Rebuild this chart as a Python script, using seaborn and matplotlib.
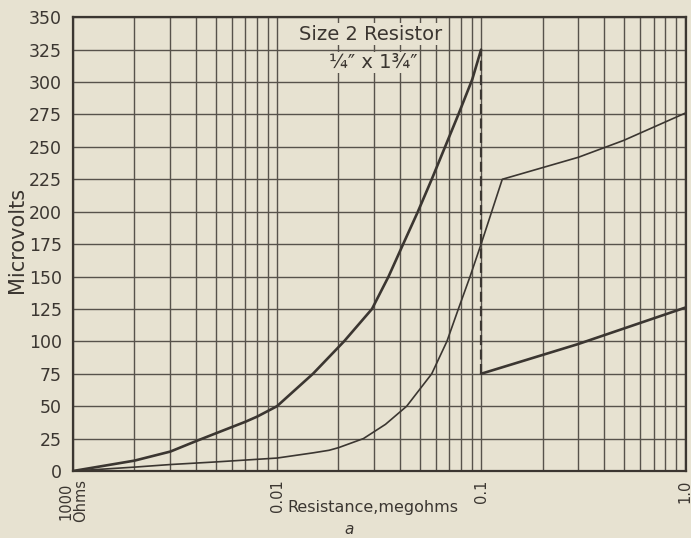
import matplotlib
matplotlib.use("Agg")
import matplotlib.pyplot as plt
import matplotlib.ticker as mticker
import seaborn as sns
import pandas as pd

# ---- data ----
a1_x = [0.001, 0.002, 0.003, 0.004, 0.005, 0.007, 0.008, 0.01, 0.015, 0.0213,
        0.0292, 0.0352, 0.0415, 0.049, 0.0573, 0.0666, 0.0774, 0.0905, 0.1]
a1_y = [0, 8, 15, 23, 29, 38, 42, 50, 75, 100, 125, 150, 175, 200, 225, 250,
        275, 302, 325]
a2_x = [0.1, 0.3, 1.0]
a2_y = [75, 98, 126]
b_x = [0.001, 0.002, 0.003, 0.005, 0.01, 0.015, 0.018, 0.02, 0.0265, 0.034,
       0.0432, 0.0573, 0.068, 0.0774, 0.0883, 0.1, 0.127, 0.3, 0.5, 1.0]
b_y = [0, 3, 5, 7, 10, 14, 16, 18, 25, 36, 50, 75, 100, 125, 150, 175, 225,
       242, 255, 276]
x_ticks = [0.001, 0.01, 0.1, 1.0]
x_tick_labels = ["1000\nOhms", "0.01", "0.1", "1.0"]
y_ticks = list(range(0, 351, 25))

BG = "#e7e2d1"
INK = "#3b3631"
GRID = "#57524b"

sns.set_theme(style="white")
plt.rcParams["font.family"] = ["DejaVu Sans"]

fig = plt.figure(figsize=(6.91, 5.38), dpi=100, facecolor=BG)
ax = fig.add_axes([0.1056, 0.1245, 0.8872, 0.8435])
ax.set_facecolor(BG)

df_a1 = pd.DataFrame({"x": a1_x, "y": a1_y})
df_a2 = pd.DataFrame({"x": a2_x, "y": a2_y})
df_b = pd.DataFrame({"x": b_x, "y": b_y})

sns.lineplot(data=df_a1, x="x", y="y", ax=ax, color=INK, lw=1.9, sort=False,
             estimator=None, zorder=4)
sns.lineplot(data=df_a2, x="x", y="y", ax=ax, color=INK, lw=1.9, sort=False,
             estimator=None, zorder=4)
sns.lineplot(data=df_b, x="x", y="y", ax=ax, color=INK, lw=1.2, sort=False,
             estimator=None, zorder=4)
ax.vlines(a1_x[-1], a2_y[0], a1_y[-1], colors=INK, linestyles=(0, (4.5, 2)),
          lw=1.6, zorder=4)

ax.set_xscale("log")
ax.set_xlim(0.001, 1.01)
ax.set_ylim(0, 350)
ax.set_xticks(x_ticks)
ax.set_xticklabels(x_tick_labels, rotation=90, fontsize=10.5, color=INK,
                   linespacing=0.95)
ax.set_yticks(y_ticks)
ax.set_yticklabels([str(v) for v in y_ticks], fontsize=12.5, color=INK)
ax.tick_params(axis="both", which="both", length=0)
ax.tick_params(axis="x", pad=6)
ax.tick_params(axis="y", pad=8)
ax.xaxis.set_minor_locator(mticker.LogLocator(base=10, subs=range(2, 10)))
ax.xaxis.set_minor_formatter(mticker.NullFormatter())

ax.grid(True, which="both", axis="x", color=GRID, lw=1.0)
ax.grid(True, which="major", axis="y", color=GRID, lw=1.0)
for s in ax.spines.values():
    s.set_color(INK)
    s.set_linewidth(1.6)

ax.set_xlabel("Resistance,megohms", fontsize=11.5, color=INK)
ax.xaxis.set_label_coords(0.49, -0.063)
ax.set_ylabel("Microvolts", fontsize=15, color=INK)
ax.yaxis.set_label_coords(-0.075, 0.509)

bbox = dict(facecolor=BG, edgecolor="none", pad=1.0)
ax.text(0.486, 0.963, "Size 2 Resistor", transform=ax.transAxes, ha="center",
        va="center", fontsize=14, color=INK, bbox=bbox, zorder=5)
ax.text(0.49, 0.900, "¼″ x 1¾″", transform=ax.transAxes, ha="center",
        va="center", fontsize=14, color=INK, bbox=bbox, zorder=5)
fig.text(0.505, 1 - 530 / 538, "a", ha="center", va="center", fontsize=11,
         style="italic", color=INK)

fig.savefig("out.png", dpi=100, facecolor=BG)
